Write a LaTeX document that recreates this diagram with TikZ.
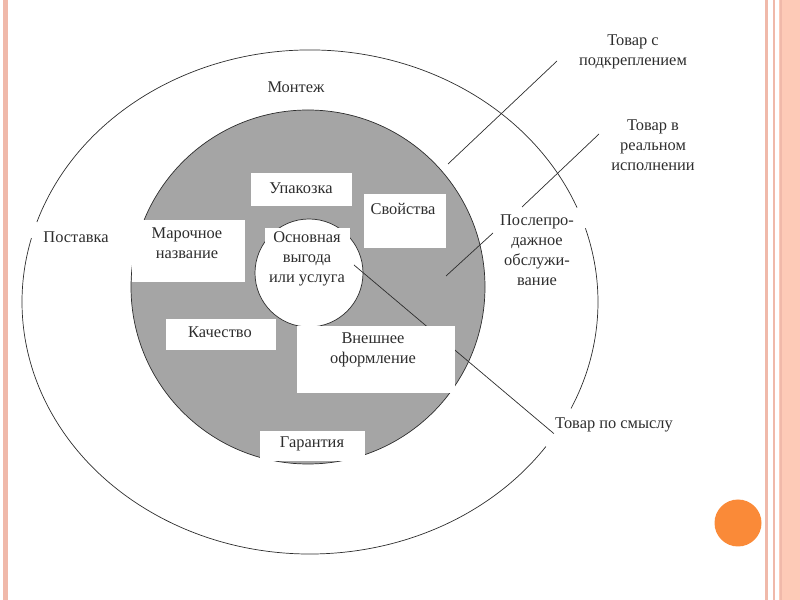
\documentclass[tikz,border=0pt]{standalone}
\usepackage{fontspec}
\setmainfont{Liberation Serif}
\usepackage{tikz}
\usetikzlibrary{calc}
\definecolor{ringgray}{RGB}{165,165,165}
\definecolor{inkdark}{RGB}{45,45,45}
\definecolor{frameline}{RGB}{240,185,170}
\definecolor{framefill}{RGB}{253,202,183}
\definecolor{dotorange}{RGB}{250,138,56}
\tikzset{
  lbl/.style={inner sep=1pt, align=center, text=inkdark, font=\fontsize{14}{17}\selectfont},
  ring/.style={draw=inkdark, line width=0.6pt},
  leader/.style={draw=inkdark, line width=0.6pt}
}
\newcommand{\wbox}[4]{\fill[white] ( #1 , #2 ) rectangle ( #3 , #4 );}
\newcommand{\lbl}[4]{\node[lbl] (#1) at ( #2 , #3 ) {#4};}
\newcommand{\ringarc}[2]{\draw[ring] (310,302) ++(#1:288 and 252) arc[start angle=#1, end angle=#2, x radius=288, y radius=252];}

\begin{document}
\begin{tikzpicture}[x=0.03cm, y=-0.03cm]
        \useasboundingbox (0,0) rectangle (800,600);
        % slide frame
        \fill[frameline] (3,0) rectangle (8,600);
        \fill[frameline] (765,0) rectangle (767.5,600);
        \fill[frameline] (773,0) rectangle (775,600);
        \fill[framefill] (779,0) rectangle (800,600);
        \fill[frameline] (780,0) rectangle (782,600);
        \fill[dotorange] (738,523) circle [radius=23.5];

        % outer ring, with its gaps
        \ringarc{343}{385}
        \ringarc{35}{194.7}
        \ringarc{198.5}{338}

        % grey ring and core
        \filldraw[fill=ringgray, draw=inkdark, line width=0.6pt] (308,287) circle [radius=177];
        \filldraw[fill=white, draw=inkdark, line width=0.6pt] (309,273) circle [radius=54];
        \coordinate (coreIn) at (354,265);

        \wbox{265}{228}{350}{262}
        \wbox{251}{173}{352}{206}
        \wbox{364}{194}{446}{248}
        \wbox{132}{220}{245}{282}
        \wbox{166}{319}{276}{350}

        \lbl{lblSense}{614}{425}{Товар по смыслу}
        \draw[leader] (coreIn) -- (lblSense.south west);

        \wbox{297}{326}{455}{393}
        \wbox{260}{431}{365}{461}

        \lbl{lblMount}{296}{87}{Монтеж}
        \lbl{lblSupply}{76}{237}{Поставка}
        \lbl{lblPack}{301}{188}{Упакозка}
        \lbl{lblProps}{403}{209}{Свойства}
        \lbl{lblBrand}{187}{243}{Марочное\\название}
        \lbl{lblCore}{307}{259}{Основная\\выгода\\или услуга}
        \lbl{lblQual}{220}{332}{Качество}
        \lbl{lblLook}{373}{350}{Внешнее\\оформление}
        \lbl{lblWarr}{312}{444}{Гарантия}
        \lbl{lblService}{537}{250}{Послепро-\\дажное\\обслужи-\\вание}
        \lbl{lblAug}{633}{52}{Товар с\\подкреплением}
        \lbl{lblReal}{653}{145}{Товар в\\реальном\\исполнении}

        % leader lines
        \coordinate (augIn) at (448,164);
        \coordinate (augOut) at (557,61);
        \coordinate (realIn) at (522,207);
        \coordinate (realOut) at (599,134);
        \coordinate (servIn) at (446,276);
        \coordinate (servOut) at (493,233);
        \draw[leader] (augIn) -- (augOut);
        \draw[leader] (realIn) -- (realOut);
        \draw[leader] (servIn) -- (servOut);

    \end{tikzpicture}
\end{document}
